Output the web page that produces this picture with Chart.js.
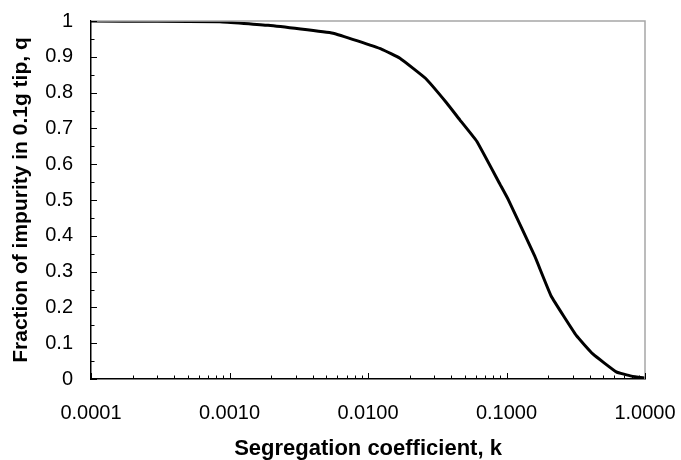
<!DOCTYPE html>
<html>
<head>
<meta charset="utf-8">
<script src="https://cdn.jsdelivr.net/npm/chart.js@4"></script>
<style>
  html, body { margin: 0; padding: 0; background: #fff; }
  #wrap { width: 681px; height: 460px; }
</style>
</head>
<body>
<div id="wrap"><canvas id="impurityChart" width="681" height="460"></canvas></div>
<script>
// segregation coefficient k and fraction of impurity q
var kValues = [0.0001, 0.0003, 0.00085, 0.0019, 0.0056, 0.0126, 0.017, 0.026, 0.037, 0.046, 0.061, 0.09, 0.103, 0.16, 0.21, 0.32, 0.42, 0.62, 0.8, 1.0];
var qValues = [1.0, 0.999, 0.998, 0.988, 0.966, 0.921, 0.896, 0.84, 0.771, 0.724, 0.664, 0.543, 0.501, 0.343, 0.232, 0.121, 0.07, 0.02, 0.008, 0.003];

var xTickValues = [0.0001, 0.001, 0.01, 0.1, 1];
var xTickLabels = ['0.0001', '0.0010', '0.0100', '0.1000', '1.0000'];
var yTickLabels = ['0', '0.1', '0.2', '0.3', '0.4', '0.5', '0.6', '0.7', '0.8', '0.9', '1'];

var fontFamily = "'Liberation Sans', Arial, sans-serif";

// tick marks drawn inside the plot, plus the grey frame on top and right
var frameTicks = {
  id: 'frameTicks',
  afterDraw: function(chart) {
    var ctx = chart.ctx;
    var area = chart.chartArea;
    var xs = chart.scales.x;
    var ys = chart.scales.y;
    ctx.save();
    ctx.strokeStyle = '#a6a6a6';
    ctx.lineWidth = 1.5;
    ctx.beginPath();
    ctx.moveTo(area.left, area.top);
    ctx.lineTo(area.right, area.top);
    ctx.lineTo(area.right, area.bottom);
    ctx.stroke();

    ctx.strokeStyle = '#000';
    ctx.lineWidth = 1;
    ctx.beginPath();
    for (var d = -4; d < 0; d++) {
      for (var m = 1; m <= 10; m++) {
        var v = m * Math.pow(10, d);
        var px = Math.round(xs.getPixelForValue(v)) + 0.5;
        var len = (m === 1 || m === 10) ? 6 : 3.5;
        ctx.moveTo(px, area.bottom);
        ctx.lineTo(px, area.bottom - len);
      }
    }
    for (var i = 0; i <= 20; i++) {
      var py = Math.round(ys.getPixelForValue(i * 0.05)) + 0.5;
      var l = (i % 2 === 0) ? 6 : 3.5;
      ctx.moveTo(area.left, py);
      ctx.lineTo(area.left + l, py);
    }
    ctx.stroke();
    ctx.restore();
  }
};

var ctx = document.getElementById('impurityChart').getContext('2d');
var impurityChart = new Chart(ctx, {
  type: 'line',
  data: {
    datasets: [{
      label: 'q',
      data: kValues.map(function(k, i) { return { x: k, y: qValues[i] }; }),
      borderColor: '#000',
      borderWidth: 3,
      pointRadius: 0,
      fill: false,
      tension: 0.1
    }]
  },
  options: {
    responsive: false,
    animation: false,
    layout: { padding: { left: 4, right: 36, top: 21, bottom: 0 } },
    scales: {
      x: {
        type: 'logarithmic',
        min: 0.0001,
        max: 1,
        afterBuildTicks: function(scale) {
          scale.ticks = xTickValues.map(function(v) { return { value: v }; });
        },
        afterFit: function(scale) {
          scale.height = 81;
          scale.paddingLeft = 0;
          scale.paddingRight = 0;
        },
        ticks: {
          autoSkip: false,
          maxRotation: 0,
          padding: 22,
          color: '#000',
          font: { family: fontFamily, size: 20 },
          callback: function(value, index) { return xTickLabels[index]; }
        },
        grid: { display: false, drawTicks: false },
        border: { display: true, color: '#000', width: 1.5 },
        title: {
          display: true,
          text: 'Segregation coefficient, k',
          color: '#000',
          font: { family: fontFamily, size: 22, weight: 'bold' },
          padding: { top: 0, bottom: -2 }
        }
      },
      y: {
        min: 0,
        max: 1,
        afterFit: function(scale) {
          scale.width = 87;
          scale.paddingTop = 0;
          scale.paddingBottom = 0;
        },
        ticks: {
          stepSize: 0.1,
          padding: 18,
          color: '#000',
          font: { family: fontFamily, size: 20 },
          callback: function(value, index) { return yTickLabels[index]; }
        },
        grid: { display: false, drawTicks: false },
        border: { display: true, color: '#000', width: 1.5 },
        title: {
          display: true,
          text: 'Fraction of impurity in 0.1g tip, q',
          color: '#000',
          font: { family: fontFamily, size: 21, weight: 'bold' },
          padding: { top: 5, bottom: 0 }
        }
      }
    },
    plugins: {
      legend: { display: false },
      tooltip: { enabled: false }
    }
  },
  plugins: [frameTicks]
});
</script>
</body>
</html>
